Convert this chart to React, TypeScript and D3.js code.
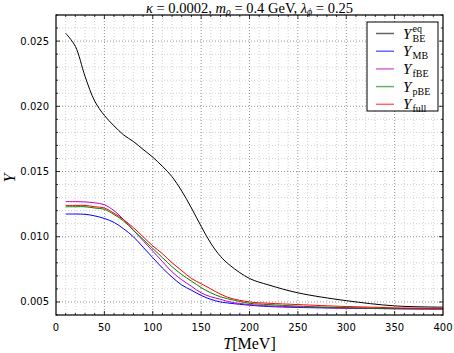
import React, { useRef, useEffect } from 'react';
import * as d3 from 'd3';

// temperature grid (MeV)
const temps = [10, 20, 30, 40, 50, 60, 70, 80, 90, 100, 110, 120, 130, 140, 150, 160, 170, 180, 200, 220, 250, 300, 350, 400];

const yBEeq = [0.0256, 0.0246, 0.0223, 0.0204, 0.0193, 0.0185, 0.0178, 0.0173, 0.0167, 0.0161, 0.0154, 0.0146, 0.0135, 0.0122, 0.0108, 0.0095, 0.0085, 0.0078, 0.0068, 0.0063, 0.0057, 0.0051, 0.0047, 0.0046];
const yMB = [0.01174, 0.01174, 0.01172, 0.0116, 0.0114, 0.0111, 0.0106, 0.0100, 0.0092, 0.0084, 0.0076, 0.0069, 0.0063, 0.0059, 0.0055, 0.0052, 0.0050, 0.0049, 0.00475, 0.00465, 0.00458, 0.00452, 0.00448, 0.00446];
const yfBE = [0.01269, 0.01269, 0.01267, 0.0126, 0.01245, 0.0120, 0.0113, 0.0105, 0.0097, 0.0089, 0.0081, 0.0073, 0.0067, 0.0062, 0.0057, 0.0054, 0.0052, 0.0050, 0.0048, 0.0047, 0.00462, 0.00453, 0.00448, 0.00446];
const ypBE = [0.0123, 0.0123, 0.0123, 0.0122, 0.0121, 0.0117, 0.0112, 0.0105, 0.0098, 0.0091, 0.0084, 0.0077, 0.0071, 0.0066, 0.0061, 0.0057, 0.0054, 0.0052, 0.0049, 0.0048, 0.00468, 0.00456, 0.0045, 0.00447];
const yFull = [0.0124, 0.0124, 0.0124, 0.0123, 0.0122, 0.0118, 0.0113, 0.0107, 0.0100, 0.0093, 0.0087, 0.0080, 0.0074, 0.0068, 0.0064, 0.0060, 0.0056, 0.0053, 0.0050, 0.0049, 0.0048, 0.00465, 0.00455, 0.0045];

const xTicks = [0, 50, 100, 150, 200, 250, 300, 350, 400];
const yTicks = [0.005, 0.01, 0.015, 0.02, 0.025];

const series = [
  { sub: 'BE', sup: 'eq', values: yBEeq, color: '#000000' },
  { sub: 'MB', sup: '', values: yMB, color: '#0000ff' },
  { sub: 'fBE', sup: '', values: yfBE, color: '#bf00bf' },
  { sub: 'pBE', sup: '', values: ypBE, color: '#008000' },
  { sub: 'full', sup: '', values: yFull, color: '#ff0000' },
];

const W = 454;
const H = 353;
const serif = "'Liberation Serif', 'DejaVu Serif', serif";
const sans = "'DejaVu Sans', sans-serif";

const App = () => {
  const svgRef = useRef<SVGSVGElement>(null);

  useEffect(() => {
    const svg = d3.select(svgRef.current);
    svg.selectAll('*').remove();

    const margin = { top: 15, right: 11, bottom: 38, left: 56 };
    const iw = W - margin.left - margin.right;
    const ih = H - margin.top - margin.bottom;

    const x = d3.scaleLinear().domain([0, 400]).range([0, iw]);
    const y = d3.scaleLinear().domain([0.004, 0.027]).range([ih, 0]);

    const g = svg.append('g').attr('transform', `translate(${margin.left},${margin.top})`);

    // grid: minor and major, dotted
    const isMajorY = (v: number) => Math.abs(v / 0.005 - Math.round(v / 0.005)) < 0.01;
    const xMinor = d3.range(10, 400, 10).filter(v => v % 50 !== 0);
    const yMinor = d3.range(0.004, 0.0271, 0.001).filter(v => !isMajorY(v));

    g.selectAll('.gx-minor').data(xMinor).enter().append('line')
      .attr('x1', d => x(d)).attr('x2', d => x(d)).attr('y1', 0).attr('y2', ih)
      .attr('stroke', '#c8c8c8').attr('stroke-width', 0.8).attr('stroke-dasharray', '1,2');
    g.selectAll('.gy-minor').data(yMinor).enter().append('line')
      .attr('x1', 0).attr('x2', iw).attr('y1', d => y(d)).attr('y2', d => y(d))
      .attr('stroke', '#c8c8c8').attr('stroke-width', 0.8).attr('stroke-dasharray', '1,2');
    g.selectAll('.gx-major').data(xTicks.slice(1, -1)).enter().append('line')
      .attr('x1', d => x(d)).attr('x2', d => x(d)).attr('y1', 0).attr('y2', ih)
      .attr('stroke', '#777').attr('stroke-width', 0.8).attr('stroke-dasharray', '1,2');
    g.selectAll('.gy-major').data(yTicks).enter().append('line')
      .attr('x1', 0).attr('x2', iw).attr('y1', d => y(d)).attr('y2', d => y(d))
      .attr('stroke', '#777').attr('stroke-width', 0.8).attr('stroke-dasharray', '1,2');

    // curves
    const line = d3.line<number>()
      .x((_, i) => x(temps[i]))
      .y(d => y(d))
      .curve(d3.curveCatmullRom.alpha(0.5));

    series.forEach(s => {
      g.append('path')
        .attr('d', line(s.values))
        .attr('fill', 'none')
        .attr('stroke', s.color)
        .attr('stroke-width', 1);
    });

    // inward ticks on all four sides
    const tickG = g.append('g').attr('stroke', '#000').attr('stroke-width', 0.8);
    d3.range(10, 400, 10).forEach(v => {
      const len = v % 50 === 0 ? 4 : 2;
      tickG.append('line').attr('x1', x(v)).attr('x2', x(v)).attr('y1', ih).attr('y2', ih - len);
      tickG.append('line').attr('x1', x(v)).attr('x2', x(v)).attr('y1', 0).attr('y2', len);
    });
    d3.range(0.004, 0.0271, 0.001).forEach(v => {
      const len = isMajorY(v) ? 4 : 2;
      tickG.append('line').attr('x1', 0).attr('x2', len).attr('y1', y(v)).attr('y2', y(v));
      tickG.append('line').attr('x1', iw).attr('x2', iw - len).attr('y1', y(v)).attr('y2', y(v));
    });

    // frame
    g.append('rect').attr('width', iw).attr('height', ih)
      .attr('fill', 'none').attr('stroke', '#000').attr('stroke-width', 1.2);

    // tick labels
    g.selectAll('.xl').data(xTicks).enter().append('text')
      .attr('x', d => x(d)).attr('y', ih + 16)
      .attr('text-anchor', 'middle')
      .attr('font-family', sans).attr('font-size', 10)
      .text(d => String(d));
    g.selectAll('.yl').data(yTicks).enter().append('text')
      .attr('x', -7).attr('y', d => y(d) + 3.5)
      .attr('text-anchor', 'end')
      .attr('font-family', sans).attr('font-size', 10)
      .text(d => d3.format('.3f')(d));

    // axis labels
    const xl = svg.append('text')
      .attr('x', margin.left + iw / 2).attr('y', 349)
      .attr('text-anchor', 'middle')
      .attr('font-family', serif).attr('font-size', 16);
    xl.append('tspan').attr('font-style', 'italic').text('T');
    xl.append('tspan').text('[MeV]');

    svg.append('text')
      .attr('transform', `translate(15,${margin.top + y(0.0145)}) rotate(-90)`)
      .attr('text-anchor', 'middle')
      .attr('font-family', serif).attr('font-size', 16).attr('font-style', 'italic')
      .text('Y');

    // title
    const t = svg.append('text')
      .attr('x', margin.left + iw / 2).attr('y', 13)
      .attr('text-anchor', 'middle')
      .attr('font-family', serif).attr('font-size', 14.5);
    t.append('tspan').attr('font-style', 'italic').text('κ');
    t.append('tspan').text(' = 0.0002, ');
    t.append('tspan').attr('font-style', 'italic').text('m');
    t.append('tspan').attr('font-style', 'italic').attr('font-size', 10).attr('dy', 2).text('ρ');
    t.append('tspan').attr('dy', -2).text(' = 0.4 GeV, ');
    t.append('tspan').attr('font-style', 'italic').text('λ');
    t.append('tspan').attr('font-style', 'italic').attr('font-size', 10).attr('dy', 2).text('ϕ');
    t.append('tspan').attr('dy', -2).text(' = 0.25');

    // legend
    const lg = svg.append('g').attr('transform', 'translate(367,22)');
    lg.append('rect').attr('width', 71).attr('height', 89)
      .attr('fill', '#fff').attr('stroke', '#000').attr('stroke-width', 1);
    series.forEach((s, i) => {
      const cy = 11.5 + i * 17.7;
      lg.append('line').attr('x1', 9).attr('x2', 27).attr('y1', cy).attr('y2', cy)
        .attr('stroke', s.color).attr('stroke-width', 1.5).attr('stroke-opacity', 0.6);
      lg.append('text').attr('x', 36).attr('y', cy + 5)
        .attr('font-family', serif).attr('font-size', 15).attr('font-style', 'italic')
        .text('Y');
      lg.append('text').attr('x', 45.5).attr('y', cy + 8)
        .attr('font-family', serif).attr('font-size', 10)
        .text(s.sub);
      if (s.sup) {
        lg.append('text').attr('x', 45.5).attr('y', cy - 1.5)
          .attr('font-family', serif).attr('font-size', 10)
          .text(s.sup);
      }
    });
  }, []);

  return (
    <svg ref={svgRef} width={W} height={H}
      style={{ position: 'absolute', left: 0, top: 0, background: '#fff' }} />
  );
};

export default App;
